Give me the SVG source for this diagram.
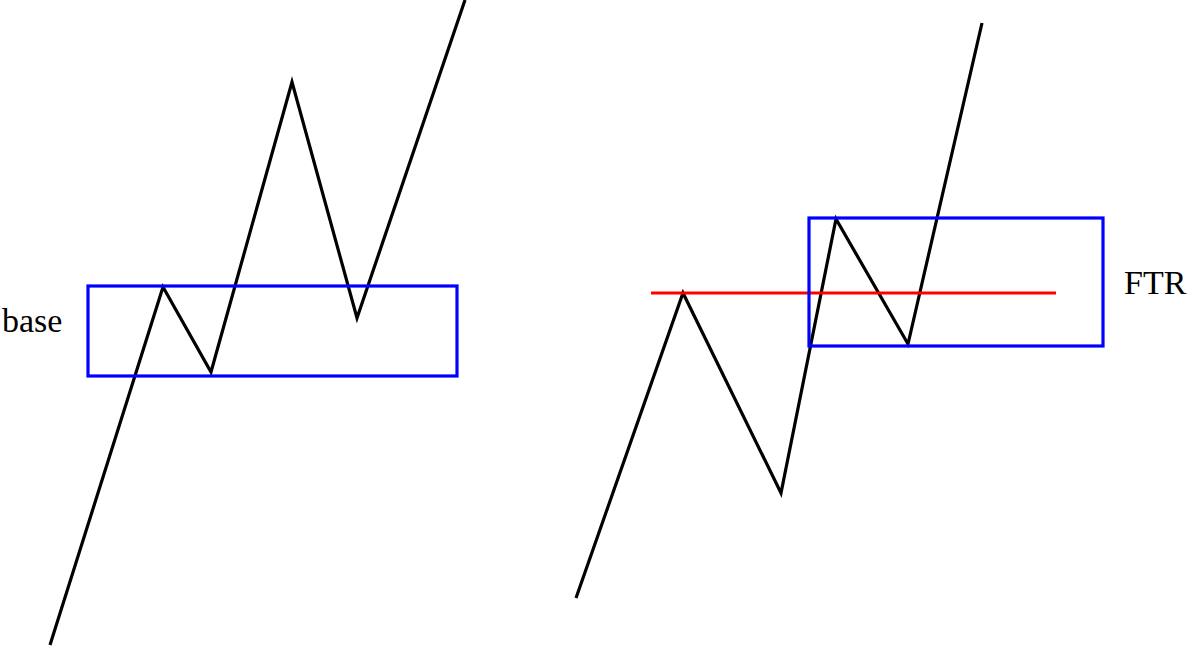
<svg xmlns="http://www.w3.org/2000/svg" width="1201" height="647" viewBox="0 0 1201 647">
<style>
.p{fill:none;stroke:#000;stroke-width:3.2;stroke-linejoin:miter}
.b{fill:none;stroke:#0000ff;stroke-width:3.2}
.t{font-family:"Liberation Serif",serif;font-size:34px;fill:#000}
</style>
<rect width="1201" height="647" fill="#fff"/>
<g id="connectors">
<polyline class="p" points="50,645 163,287 211,372 292,82 357,318 465,0"/>
<polyline class="p" points="576,598 683,293 781,493 836,219 908,344 982,23"/>
<line x1="651" y1="293" x2="1056" y2="293" stroke="#ff0000" stroke-width="3.2"/>
</g>
<g id="base"><rect class="b" x="88" y="286" width="369" height="90"/><text class="t" x="2" y="332">base</text></g>
<g id="ftr"><rect class="b" x="809" y="218" width="294" height="128"/><text class="t" x="1124" y="294">FTR</text></g>
</svg>
